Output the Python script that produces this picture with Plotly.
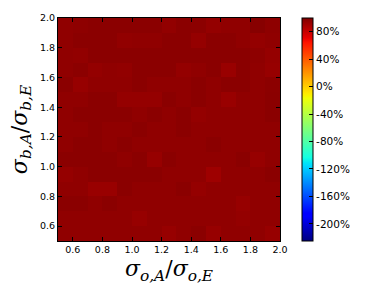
import numpy as np
import plotly.graph_objects as go

# cell centers
x_centers = [0.55, 0.65, 0.75, 0.85, 0.95, 1.05, 1.15, 1.25, 1.35, 1.45, 1.55, 1.65, 1.75, 1.85, 1.95]
y_centers = [1.95, 1.85, 1.75, 1.65, 1.55, 1.45, 1.35, 1.25, 1.15, 1.05, 0.95, 0.85, 0.75, 0.65, 0.55]

# values in percent, rows listed from top (y=1.95) to bottom (y=0.55)
row_195 = [95.5, 96, 97, 97, 97, 97, 97, 95, 97, 96.5, 94.5, 95.5, 95.5, 98, 96]
row_185 = [95.5, 97, 97, 97, 95, 95.5, 95.5, 97, 97, 94, 97, 97, 95.5, 94.5, 95.5]
row_175 = [95.5, 95, 97, 97, 97, 97, 97, 97, 97, 97, 97, 97, 97, 96, 94]
row_165 = [95.5, 96.5, 94.5, 95.5, 95, 97, 97, 97, 94.5, 95.5, 97, 93, 97, 95.5, 93.5]
row_155 = [97, 93.5, 95.5, 95.5, 95.5, 97, 95.5, 95.5, 95.5, 97, 95.5, 97, 97, 95.5, 96.5]
row_145 = [95.5, 95.5, 97, 97, 94, 94, 94, 97, 95.5, 97, 95.5, 93, 95.5, 95.5, 97]
row_135 = [95.5, 97, 97, 97, 97, 95.5, 97, 95.5, 97, 94.5, 95.5, 95.5, 95.5, 95.5, 97]
row_125 = [95.5, 95.5, 97, 95.5, 95.5, 97, 95.5, 95.5, 97, 95.5, 95.5, 95.5, 95.5, 95.5, 95.5]
row_115 = [95.5, 97, 97, 95.5, 97, 95.5, 95.5, 95.5, 95.5, 95.5, 97, 95.5, 95.5, 95.5, 95.5]
row_105 = [97, 97, 97, 97, 95.5, 97, 93.5, 97, 95.5, 95.5, 95.5, 95.5, 97, 93.5, 95.5]
row_095 = [94, 95.5, 97, 97, 97, 97, 97, 95.5, 95.5, 95.5, 91.5, 95.5, 95.5, 95.5, 97]
row_085 = [95.5, 95.5, 93, 93, 97, 95.5, 95.5, 95.5, 97, 94, 95.5, 95.5, 95.5, 95.5, 95.5]
row_075 = [97, 97, 95.5, 97, 95.5, 95.5, 95.5, 95.5, 95.5, 95.5, 95.5, 95.5, 93.5, 95.5, 95.5]
row_065 = [95.5, 95.5, 95.5, 95.5, 95.5, 93.5, 95.5, 95.5, 95.5, 95.5, 95.5, 95.5, 94.5, 95.5, 95.5]
row_055 = [95.5, 95.5, 95.5, 95.5, 95.5, 95.5, 95.5, 93.5, 95.5, 97, 93.5, 95.5, 95.5, 95.5, 93.5]

z_rows = [row_195, row_185, row_175, row_165, row_155, row_145, row_135, row_125,
          row_115, row_105, row_095, row_085, row_075, row_065, row_055]

x_ticks = [0.6, 0.8, 1.0, 1.2, 1.4, 1.6, 1.8, 2.0]
y_ticks = [0.6, 0.8, 1.0, 1.2, 1.4, 1.6, 1.8, 2.0]
cbar_ticks = [-200, -160, -120, -80, -40, 0, 40, 80]
cbar_labels = ["-200%", "-160%", "-120%", "-80%", "-40%", "0%", "40%", "80%"]
zmin, zmax = -225, 100

# matplotlib 'jet' colormap, piecewise linear
def jet(t):
    r = np.interp(t, [0, 0.35, 0.66, 0.89, 1], [0, 0, 1, 1, 0.5])
    g = np.interp(t, [0, 0.125, 0.375, 0.64, 0.91, 1], [0, 0, 1, 1, 0, 0])
    b = np.interp(t, [0, 0.11, 0.34, 0.65, 1], [0.5, 1, 1, 0, 0])
    return "rgb(%d,%d,%d)" % (round(r * 255), round(g * 255), round(b * 255))

bps = sorted(set([0, 0.11, 0.125, 0.34, 0.35, 0.375, 0.64, 0.65, 0.66, 0.89, 0.91, 1]))
colorscale = [[t, jet(t)] for t in bps]

fig = go.Figure(go.Heatmap(
    x=x_centers, y=y_centers, z=z_rows,
    zmin=zmin, zmax=zmax, colorscale=colorscale,
    colorbar=dict(
        x=(311 - 58) / 230, xanchor="left", xpad=0, ypad=0,
        y=0.5, yanchor="middle", len=1, lenmode="fraction",
        thickness=11, thicknessmode="pixels",
        outlinecolor="black", outlinewidth=1,
        tickvals=cbar_ticks, ticktext=cbar_labels,
        ticks="inside", ticklen=4, tickcolor="black",
        tickfont=dict(family="DejaVu Sans", size=10.5, color="black"),
    ),
))

axis_common = dict(
    ticks="inside", ticklen=4, tickcolor="black", mirror="ticks",
    showline=True, linecolor="black", linewidth=1, showgrid=False, zeroline=False,
    tickfont=dict(family="DejaVu Sans", size=9.5, color="black"),
)

fig.update_xaxes(range=[0.5, 2.0], tickvals=x_ticks, tickformat=".1f",
                 title=dict(text="<i>σ</i><sub><i>o,A</i></sub>/<i>σ</i><sub><i>o,E</i></sub>",
                            font=dict(family="DejaVu Serif", size=22, color="black"), standoff=6),
                 **axis_common)
fig.update_yaxes(range=[0.5, 2.0], tickvals=y_ticks, tickformat=".1f",
                 title=dict(text="<i>σ</i><sub><i>b,A</i></sub>/<i>σ</i><sub><i>b,E</i></sub>",
                            font=dict(family="DejaVu Serif", size=22, color="black"), standoff=6),
                 **axis_common)

fig.update_layout(
    width=367, height=295,
    margin=dict(l=58, r=79, t=12, b=54),
    paper_bgcolor="white", plot_bgcolor="white",
    font=dict(family="DejaVu Sans", color="black"),
)

fig.write_html("out.html", config={"displayModeBar": False},
               post_script="document.body.style.margin='0';")
